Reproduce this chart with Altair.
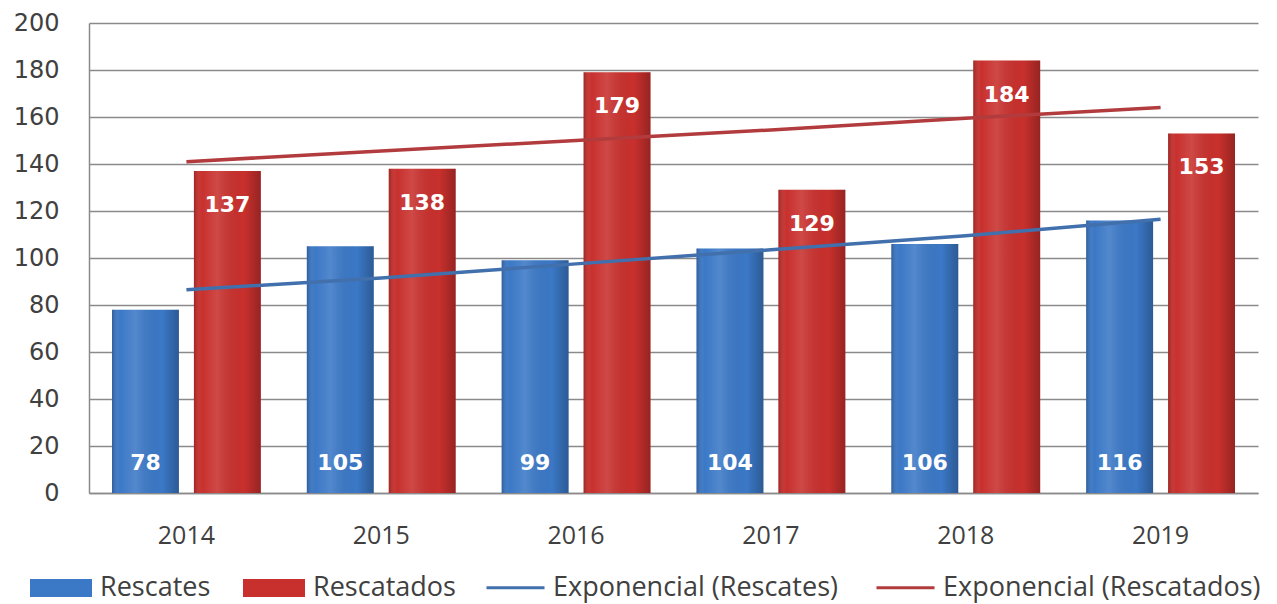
import altair as alt
import pandas as pd

years = ["2014", "2015", "2016", "2017", "2018", "2019"]
rescates = [78, 105, 99, 104, 106, 116]
rescatados = [137, 138, 179, 129, 184, 153]
trend_rescates = [86.5, 91.5, 97.5, 103.5, 109.5, 116.5]
trend_rescatados = [141, 145.5, 150, 154.5, 159.5, 164]

series = ["Rescates", "Rescatados"]
trend_names = ["Exponencial (Rescates)", "Exponencial (Rescatados)"]
bar_colors = ["#3b78c6", "#c8302d"]
line_colors = ["#4170ad", "#b23b3d"]

bars_df = pd.DataFrame(
    [{"year": y, "serie": series[0], "value": v} for y, v in zip(years, rescates)]
    + [{"year": y, "serie": series[1], "value": v} for y, v in zip(years, rescatados)]
)
trend_df = pd.DataFrame(
    [{"year": y, "trend": trend_names[0], "value": v} for y, v in zip(years, trend_rescates)]
    + [{"year": y, "trend": trend_names[1], "value": v} for y, v in zip(years, trend_rescatados)]
)

x_enc = alt.X(
    "year:N",
    sort=years,
    title=None,
    scale=alt.Scale(paddingInner=0.236, paddingOuter=0.118),
    axis=alt.Axis(
        labelAngle=0,
        labelFont="Open Sans",
        labelFontSize=25,
        labelColor="#404040",
        labelPadding=30,
        ticks=False,
        domainColor="#8a8a8a",
        domainWidth=1.5,
        grid=False,
    ),
)
y_enc = alt.Y(
    "value:Q",
    title=None,
    scale=alt.Scale(domain=[0, 200], nice=False),
    axis=alt.Axis(
        values=list(range(0, 201, 20)),
        labelFont="DejaVu Sans",
        labelFontSize=24,
        labelColor="#404040",
        labelPadding=30,
        ticks=False,
        domainColor="#8a8a8a",
        domainWidth=1.5,
        gridColor="#8a8a8a",
        gridWidth=1.5,
    ),
)
xoff = alt.XOffset("serie:N", sort=series, scale=alt.Scale(paddingInner=0.183, paddingOuter=0))

bars = alt.Chart(bars_df).mark_bar().encode(
    x=x_enc,
    xOffset=xoff,
    y=y_enc,
    fill=alt.Fill(
        "serie:N",
        sort=series,
        scale=alt.Scale(domain=series, range=bar_colors),
        legend=alt.Legend(
            title=None,
            orient="none",
            direction="horizontal",
            legendX=-59,
            legendY=534,
            symbolType="M-1,-0.29H1V0.29H-1Z",
            symbolSize=3844,
            symbolStrokeWidth=0,
            symbolOpacity=1,
            labelFont="Open Sans",
            labelFontSize=27,
            labelColor="#404040",
            labelOffset=8,
            labelLimit=400,
            columnPadding=32,
        ),
    ),
)

shade = alt.Chart(bars_df).mark_bar(
    fill=alt.Gradient(
        gradient="linear",
        x1=0, x2=1, y1=0, y2=0,
        stops=[
            alt.GradientStop(offset=0, color="rgba(0,0,0,0.22)"),
            alt.GradientStop(offset=0.12, color="rgba(255,255,255,0.0)"),
            alt.GradientStop(offset=0.35, color="rgba(255,255,255,0.12)"),
            alt.GradientStop(offset=0.75, color="rgba(0,0,0,0.0)"),
            alt.GradientStop(offset=1, color="rgba(0,0,0,0.25)"),
        ],
    )
).encode(
    x=alt.X("year:N", sort=years),
    xOffset=alt.XOffset("serie:N", sort=series),
    y="value:Q",
)

blue_labels = alt.Chart(bars_df).transform_filter(alt.datum.serie == "Rescates").mark_text(
    font="DejaVu Sans", fontSize=22, fontWeight="bold", color="white", dy=-30, baseline="middle"
).encode(
    x=alt.X("year:N", sort=years),
    xOffset=alt.XOffset("serie:N", sort=series),
    y=alt.datum(0),
    text="value:Q",
)
red_labels = alt.Chart(bars_df).transform_filter(alt.datum.serie == "Rescatados").mark_text(
    font="DejaVu Sans", fontSize=22, fontWeight="bold", color="white", dy=34, baseline="middle"
).encode(
    x=alt.X("year:N", sort=years),
    xOffset=alt.XOffset("serie:N", sort=series),
    y="value:Q",
    text="value:Q",
)

lines = alt.Chart(trend_df).mark_line(strokeWidth=3.5).encode(
    x=alt.X("year:N", sort=years),
    y="value:Q",
    stroke=alt.Stroke(
        "trend:N",
        sort=trend_names,
        scale=alt.Scale(domain=trend_names, range=line_colors),
        legend=alt.Legend(
            title=None,
            orient="none",
            direction="horizontal",
            legendX=396,
            legendY=534,
            symbolType="stroke",
            symbolSize=3364,
            symbolStrokeWidth=3,
            labelFont="Open Sans",
            labelFontSize=27,
            labelColor="#404040",
            labelOffset=7,
            labelLimit=500,
            columnPadding=32,
        ),
    ),
)

chart = alt.layer(bars, shade, lines, blue_labels, red_labels).resolve_scale(
    fill="independent", stroke="independent"
).properties(
    width=1169,
    height=470,
    autosize=alt.AutoSizeParams(type="none"),
    padding={"left": 89, "top": 23, "right": 19, "bottom": 111},
    background="white",
).configure_view(stroke=None)

chart.save("out.html", embed_options={"renderer": "svg", "actions": False})
